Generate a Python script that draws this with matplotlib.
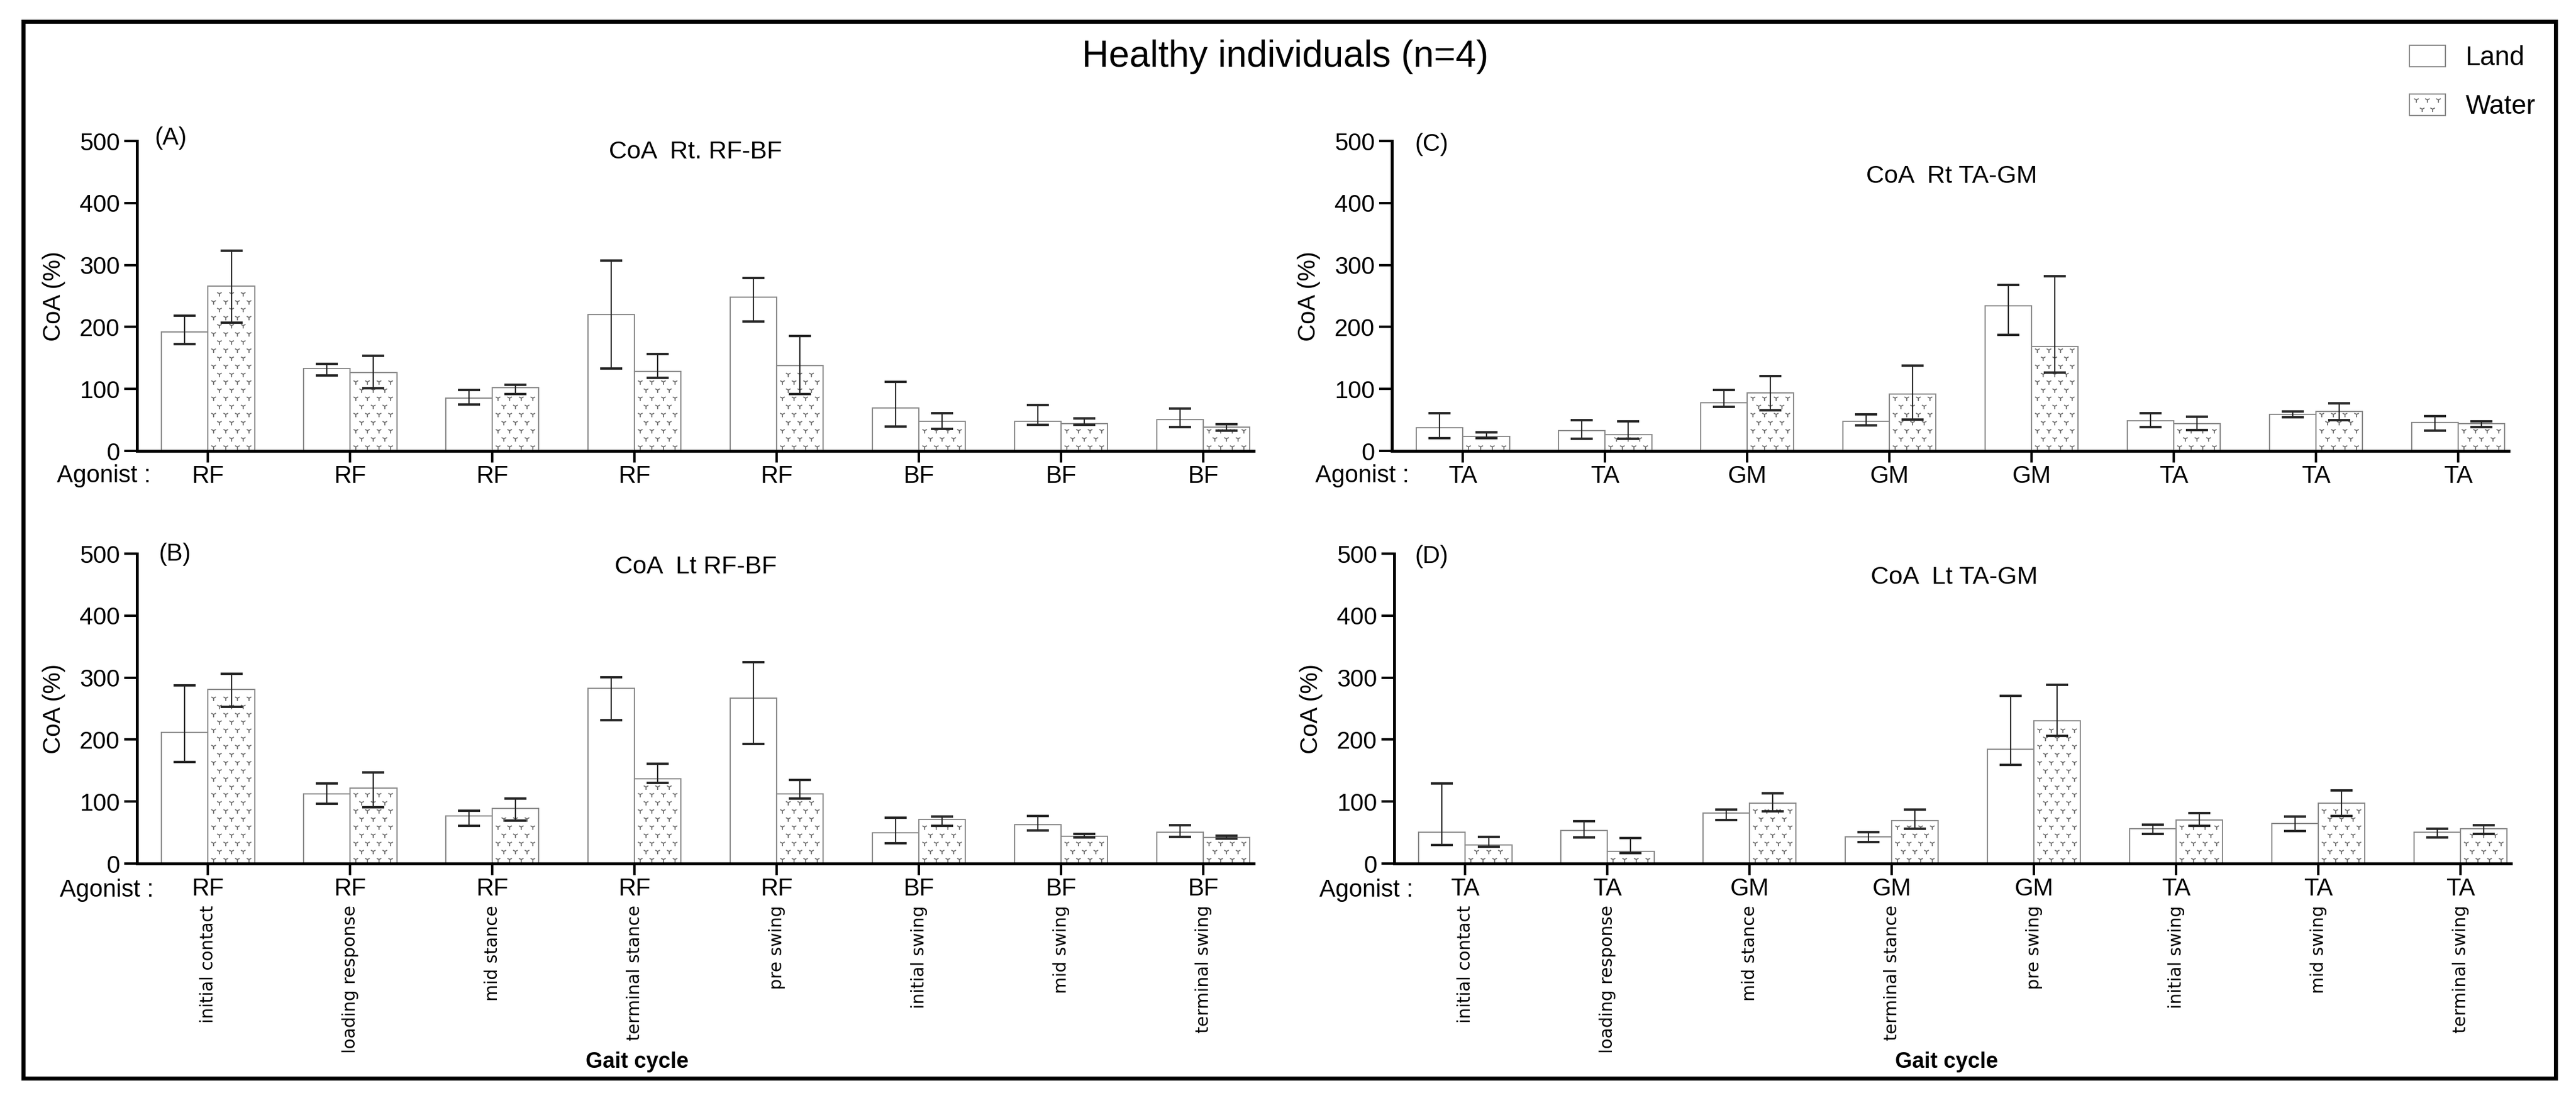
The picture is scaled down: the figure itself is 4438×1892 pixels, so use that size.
import numpy as np
import matplotlib
matplotlib.use("Agg")
import matplotlib.pyplot as plt
from matplotlib.patches import Rectangle
from matplotlib.lines import Line2D
from matplotlib.transforms import blended_transform_factory

plt.rcParams['font.family'] = ['Liberation Sans', 'DejaVu Sans']

phases = ["initial contact", "loading response", "mid stance", "terminal stance",
          "pre swing", "initial swing", "mid swing", "terminal swing"]
agonist_rf_bf = ["RF", "RF", "RF", "RF", "RF", "BF", "BF", "BF"]
agonist_ta_gm = ["TA", "TA", "GM", "GM", "GM", "TA", "TA", "TA"]

# (A) CoA Rt. RF-BF  (mean, lower end and upper end of the error bar)
a_land = [192, 133, 85, 220, 248, 69, 48, 51]
a_land_lo = [172, 122, 75, 133, 209, 39, 42, 38]
a_land_hi = [218, 140, 98, 307, 279, 111, 74, 68]
a_water = [266, 126, 102, 128, 138, 48, 44, 38]
a_water_lo = [207, 101, 92, 118, 92, 36, 42, 33]
a_water_hi = [323, 154, 107, 156, 185, 61, 52, 43]

# (B) CoA Lt RF-BF
b_land = [212, 112, 77, 283, 267, 50, 63, 51]
b_land_lo = [164, 96, 61, 231, 193, 33, 53, 43]
b_land_hi = [287, 129, 85, 301, 325, 74, 77, 62]
b_water = [281, 122, 89, 137, 112, 71, 44, 42]
b_water_lo = [253, 91, 69, 130, 105, 61, 42, 40]
b_water_hi = [306, 147, 105, 161, 135, 76, 48, 45]

# (C) CoA Rt TA-GM
c_land = [37, 33, 78, 48, 234, 49, 59, 46]
c_land_lo = [21, 20, 71, 41, 187, 38, 54, 33]
c_land_hi = [61, 50, 98, 59, 268, 61, 64, 56]
c_water = [23, 26, 94, 92, 169, 44, 64, 44]
c_water_lo = [21, 20, 66, 51, 126, 34, 50, 38]
c_water_hi = [30, 48, 121, 138, 282, 55, 77, 48]

# (D) CoA Lt TA-GM
d_land = [51, 53, 81, 43, 184, 56, 65, 51]
d_land_lo = [30, 42, 70, 35, 159, 48, 52, 42]
d_land_hi = [129, 68, 87, 51, 271, 63, 76, 56]
d_water = [30, 20, 97, 69, 230, 70, 97, 56]
d_water_lo = [27, 17, 84, 56, 206, 61, 77, 48]
d_water_hi = [43, 41, 113, 87, 288, 81, 118, 62]

yticks = [0, 100, 200, 300, 400, 500]

W, H = 4438, 1892
fig = plt.figure(figsize=(W / 100, H / 100), dpi=100)


def fx(p):
    return p / W


def fy(p):
    return 1 - p / H


edge = "#8a8a8a"
tex_col = "#707070"
bw = 0.327


class WaterHandler:
    # white box with a few "v" marks, like the water bars
    def legend_artist(self, legend, orig_handle, fontsize, handlebox):
        x0, y0 = handlebox.xdescent, handlebox.ydescent
        w, h = handlebox.width, handlebox.height
        tr = handlebox.get_transform()
        rect = Rectangle((-x0, -y0), w, h, facecolor="white", edgecolor=edge, lw=1.5, transform=tr)
        handlebox.add_artist(rect)
        mx = np.concatenate([-x0 + w * np.array([0.2, 0.5, 0.8]), -x0 + w * np.array([0.35, 0.65])])
        my = np.concatenate([[-y0 + h * 0.72] * 3, [-y0 + h * 0.3] * 2])
        ln = Line2D(mx, my, ls="none", marker="1", ms=7, mew=1.3, color=tex_col)
        ln.set_transform(tr)
        handlebox.add_artist(ln)
        return rect


panels = [
    # label, title, agonists, data, axes box px (left, top, right, bottom), label xy, title xy, agonist text x, bottom row
    ("(A)", "CoA  Rt. RF-BF", agonist_rf_bf,
     (a_land, a_land_lo, a_land_hi, a_water, a_water_lo, a_water_hi),
     (236, 243, 2160, 777), (266, 249), (1198, 273), 260, False),
    ("(C)", "CoA  Rt TA-GM", agonist_ta_gm,
     (c_land, c_land_lo, c_land_hi, c_water, c_water_lo, c_water_hi),
     (2398, 243, 4322, 777), (2437, 260), (3362, 315), 2428, False),
    ("(B)", "CoA  Lt RF-BF", agonist_rf_bf,
     (b_land, b_land_lo, b_land_hi, b_water, b_water_lo, b_water_hi),
     (236, 954, 2160, 1488), (273, 966), (1199, 988), 265, True),
    ("(D)", "CoA  Lt TA-GM", agonist_ta_gm,
     (d_land, d_land_lo, d_land_hi, d_water, d_water_lo, d_water_hi),
     (2402, 954, 4326, 1488), (2437, 970), (3367, 1006), 2435, True),
]

x = np.arange(len(phases))

for lab, title, agon, data, box, lab_xy, tit_xy, ag_x, bottom_row in panels:
    land, land_lo, land_hi, water, water_lo, water_hi = [np.array(v, float) for v in data]
    l, t, r, b = box
    ax = fig.add_axes([fx(l), fy(b), (r - l) / W, (b - t) / H])

    ax.bar(x - bw / 2, land, bw, facecolor="white", edgecolor=edge, lw=1.5, zorder=2)
    ax.bar(x + bw / 2, water, bw, facecolor="white", edgecolor=edge, lw=1.5, zorder=2)

    # "v" texture of the water bars
    px, py = [], []
    for xc, h in zip(x + bw / 2, water):
        left = xc - bw / 2
        for k, yy in enumerate(np.arange(7, h - 4, 13)):
            if k % 2 == 0:
                cols = left + bw * (np.arange(4) + 0.5) / 4
            else:
                cols = left + bw * (np.arange(3) + 1) / 4
            px.extend(cols)
            py.extend([yy] * len(cols))
    ax.plot(px, py, ls="none", marker="1", ms=7, mew=1.3, color=tex_col, zorder=3)

    ax.errorbar(x - bw / 2, land, yerr=[land - land_lo, land_hi - land], fmt="none",
                ecolor="#262626", elinewidth=1.6, capsize=14, capthick=3, zorder=4)
    ax.errorbar(x + bw / 2, water, yerr=[water - water_lo, water_hi - water], fmt="none",
                ecolor="#262626", elinewidth=1.6, capsize=14, capthick=3, zorder=4)

    ax.set_xlim(-0.5, 7.355)
    ax.set_ylim(0, 500)
    ax.set_yticks(yticks)
    ax.set_xticks(x)
    ax.set_xticklabels(agon)
    for s in ["top", "right"]:
        ax.spines[s].set_visible(False)
    for s in ["left", "bottom"]:
        ax.spines[s].set_linewidth(3.6)
    ax.tick_params(axis="x", length=14.4, width=3, pad=3, labelsize=30)
    ax.tick_params(axis="y", length=16, width=3, pad=5, labelsize=30)
    ax.set_ylabel("CoA (%)", fontsize=30)
    ax.yaxis.set_label_coords(-0.064, 0.5)

    fig.text(fx(lab_xy[0]), fy(lab_xy[1]), lab, fontsize=30, ha="left", va="baseline")
    fig.text(fx(tit_xy[0]), fy(tit_xy[1]), title, fontsize=31, ha="center", va="baseline")
    ag_base = 1545 if bottom_row else 831
    fig.text(fx(ag_x), fy(ag_base), "Agonist :", fontsize=30, ha="right", va="baseline")

    if bottom_row:
        tr = blended_transform_factory(ax.transData, fig.transFigure)
        for xi, name in zip(x, phases):
            ax.text(xi, fy(1560), name, transform=tr, rotation=90, ha="center", va="top",
                    fontsize=21.5, family="DejaVu Sans", clip_on=False)

fig.text(fx(1098), fy(1840), "Gait cycle", fontsize=27, weight="bold", ha="center", va="baseline")
fig.text(fx(3354), fy(1840), "Gait cycle", fontsize=27, weight="bold", ha="center", va="baseline")

fig.text(fx(2214), fy(115), "Healthy individuals (n=4)", fontsize=46, ha="center", va="baseline")

land_h = Rectangle((0, 0), 1, 1, facecolor="white", edgecolor=edge, lw=1.5)
water_h = Rectangle((0, 0), 1, 1, facecolor="white", edgecolor=edge, lw=1.5)
fig.legend([land_h, water_h], ["Land", "Water"], handler_map={water_h: WaterHandler()},
           loc="upper left", bbox_to_anchor=(fx(4151), fy(78)), frameon=False, fontsize=33,
           handlelength=1.35, handleheight=0.85, handletextpad=0.76, labelspacing=0.87,
           borderpad=0, borderaxespad=0)

fig.add_artist(Rectangle((fx(40), fy(1858)), (4403 - 40) / W, (1858 - 37) / H, fill=False,
                         lw=5, edgecolor="black", transform=fig.transFigure))

plt.savefig("out.png", dpi=100)
